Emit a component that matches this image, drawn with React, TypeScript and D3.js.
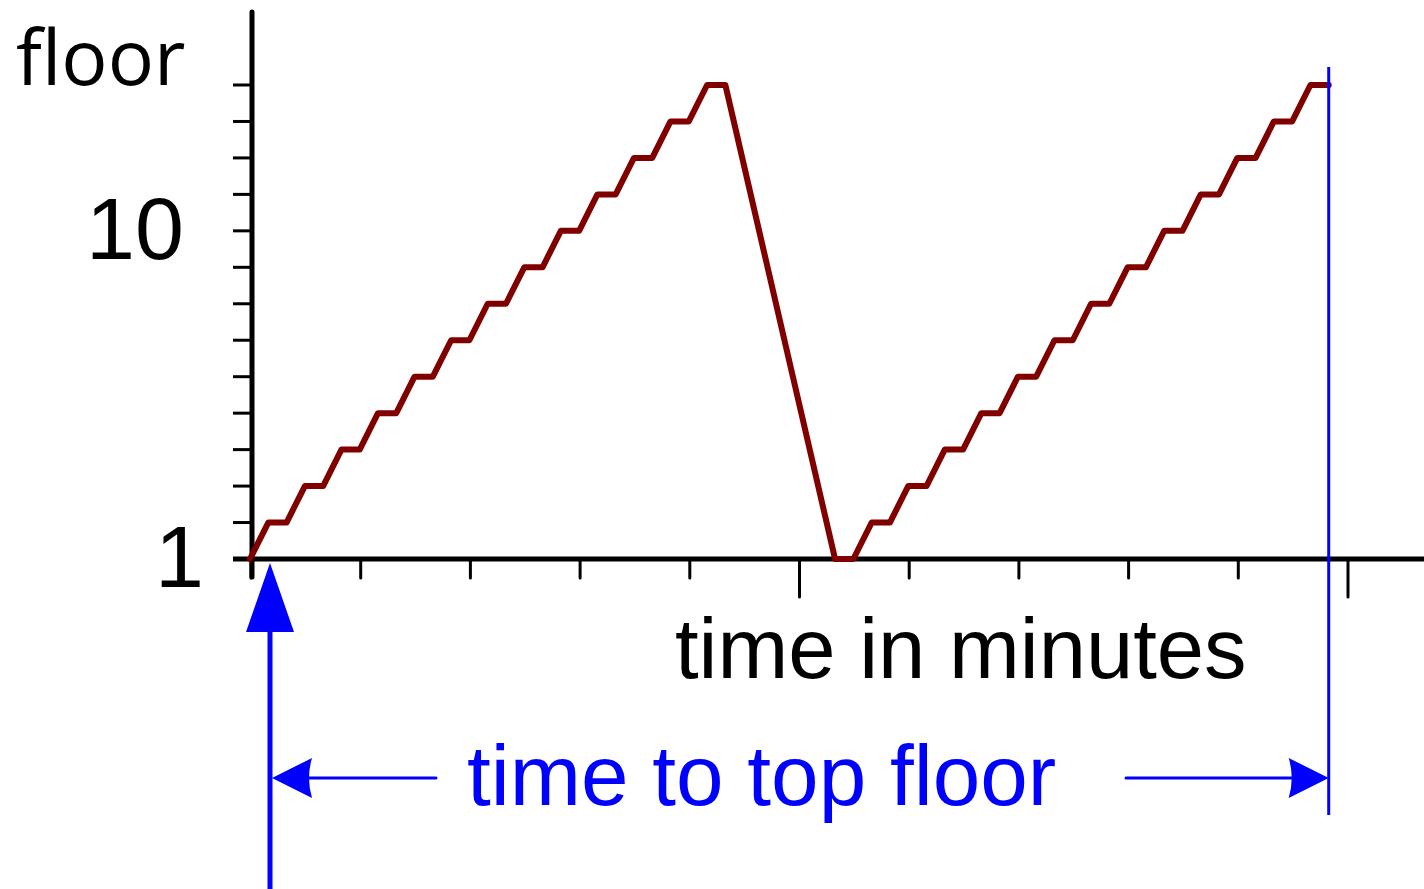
import * as d3 from 'd3';

// elevator trip: [seconds, floor]
const trip: [number, number][] = [
  [0, 1], [10, 2], [20, 2], [30, 3], [40, 3], [50, 4], [60, 4], [70, 5], [80, 5],
  [90, 6], [100, 6], [110, 7], [120, 7], [130, 8], [140, 8], [150, 9], [160, 9],
  [170, 10], [180, 10], [190, 11], [200, 11], [210, 12], [220, 12], [230, 13],
  [240, 13], [250, 14], [260, 14],
  [320, 1], [330, 1], [340, 2], [350, 2], [360, 3], [370, 3], [380, 4], [390, 4],
  [400, 5], [410, 5], [420, 6], [430, 6], [440, 7], [450, 7], [460, 8], [470, 8],
  [480, 9], [490, 9], [500, 10], [510, 10], [520, 11], [530, 11], [540, 12],
  [550, 12], [560, 13], [570, 13], [580, 14], [590, 14],
];

const minuteTicks = [0, 1, 2, 3, 4, 5, 6, 7, 8, 9, 10];
const longTicks = [5, 10];
const floorTicks = [2, 3, 4, 5, 6, 7, 8, 9, 10, 11, 12, 13, 14];
const floorLabels = [
  { floor: 10, text: '10', x: 86 },
  { floor: 1, text: '1', x: 155 },
];
const arrivalSec = 590;

const W = 1424;
const H = 889;
const BLUE = '#0000ff';

export default function App() {
  const x = d3.scaleLinear().domain([0, 10]).range([250, 1347]);
  const y = d3.scaleLinear().domain([1, 14]).range([559, 85]);

  const line = d3
    .line<[number, number]>()
    .x((d) => x(d[0] / 60))
    .y((d) => y(d[1]));

  const x0 = x(0);
  const y0 = y(1);
  const startX = x0 + 20;
  const endX = x(arrivalSec / 60);
  const arrowY = 778;

  // arrowhead with concave back, tip at (tx, ty), pointing dir (+1 right, -1 left)
  const head = (tx: number, ty: number, dir: number) => {
    const back = tx - dir * 40;
    const notch = tx - dir * 34;
    return `M${tx},${ty} L${back},${ty - 20} Q${notch},${ty} ${back},${ty + 20} Z`;
  };

  return (
    <svg
      width={W}
      height={H}
      style={{ position: 'absolute', left: 0, top: 0, background: '#fff' }}
    >
      {/* y axis */}
      <line x1={x0 + 2} x2={x0 + 2} y1={12} y2={577} stroke="#000" strokeWidth={5} strokeLinecap="round" />
      {floorTicks.map((f) => (
        <line key={f} x1={233} x2={x0 + 2} y1={y(f)} y2={y(f)} stroke="#000" strokeWidth={3} />
      ))}
      {/* x axis */}
      <line x1={233} x2={W} y1={y0} y2={y0} stroke="#000" strokeWidth={5} />
      {minuteTicks.map((m) => (
        <line
          key={m}
          x1={x(m) + 1}
          x2={x(m) + 1}
          y1={y0}
          y2={longTicks.includes(m) ? 597 : 578}
          stroke="#000"
          strokeWidth={3}
          strokeLinecap="round"
        />
      ))}

      {/* trip */}
      <path
        d={line(trip) ?? ''}
        fill="none"
        stroke="#800000"
        strokeWidth={6}
        strokeLinejoin="round"
        strokeLinecap="round"
      />

      {/* labels */}
      <text x={16} y={85} fontFamily="'Open Sans', sans-serif" fontSize={77} fill="#000">
        floor
      </text>
      {floorLabels.map((l) => (
        <text
          key={l.text}
          x={l.x}
          y={y(l.floor) + 28}
          fontFamily="'Liberation Sans', Arial, sans-serif"
          fontSize={88}
          fill="#000"
        >
          {l.text}
        </text>
      ))}
      <text x={675} y={678} fontFamily="'Liberation Sans', Arial, sans-serif" fontSize={85} fill="#000">
        time in minutes
      </text>

      {/* annotation */}
      <line x1={endX} x2={endX} y1={67} y2={815} stroke={BLUE} strokeWidth={3} />
      <path d={`M${startX},${y0 + 4} L${startX - 24},632 L${startX + 24},632 Z`} fill={BLUE} />
      <line x1={startX} x2={startX} y1={630} y2={H} stroke={BLUE} strokeWidth={5} />
      <line x1={startX + 34} x2={436} y1={arrowY} y2={arrowY} stroke={BLUE} strokeWidth={3} strokeLinecap="round" />
      <path d={head(startX + 2, arrowY, -1)} fill={BLUE} />
      <line x1={1126} x2={endX - 36} y1={arrowY} y2={arrowY} stroke={BLUE} strokeWidth={3} strokeLinecap="round" />
      <path d={head(endX, arrowY, 1)} fill={BLUE} />
      <text x={467} y={805} fontFamily="'Liberation Sans', Arial, sans-serif" fontSize={85.5} fill={BLUE}>
        time to top floor
      </text>
    </svg>
  );
}
